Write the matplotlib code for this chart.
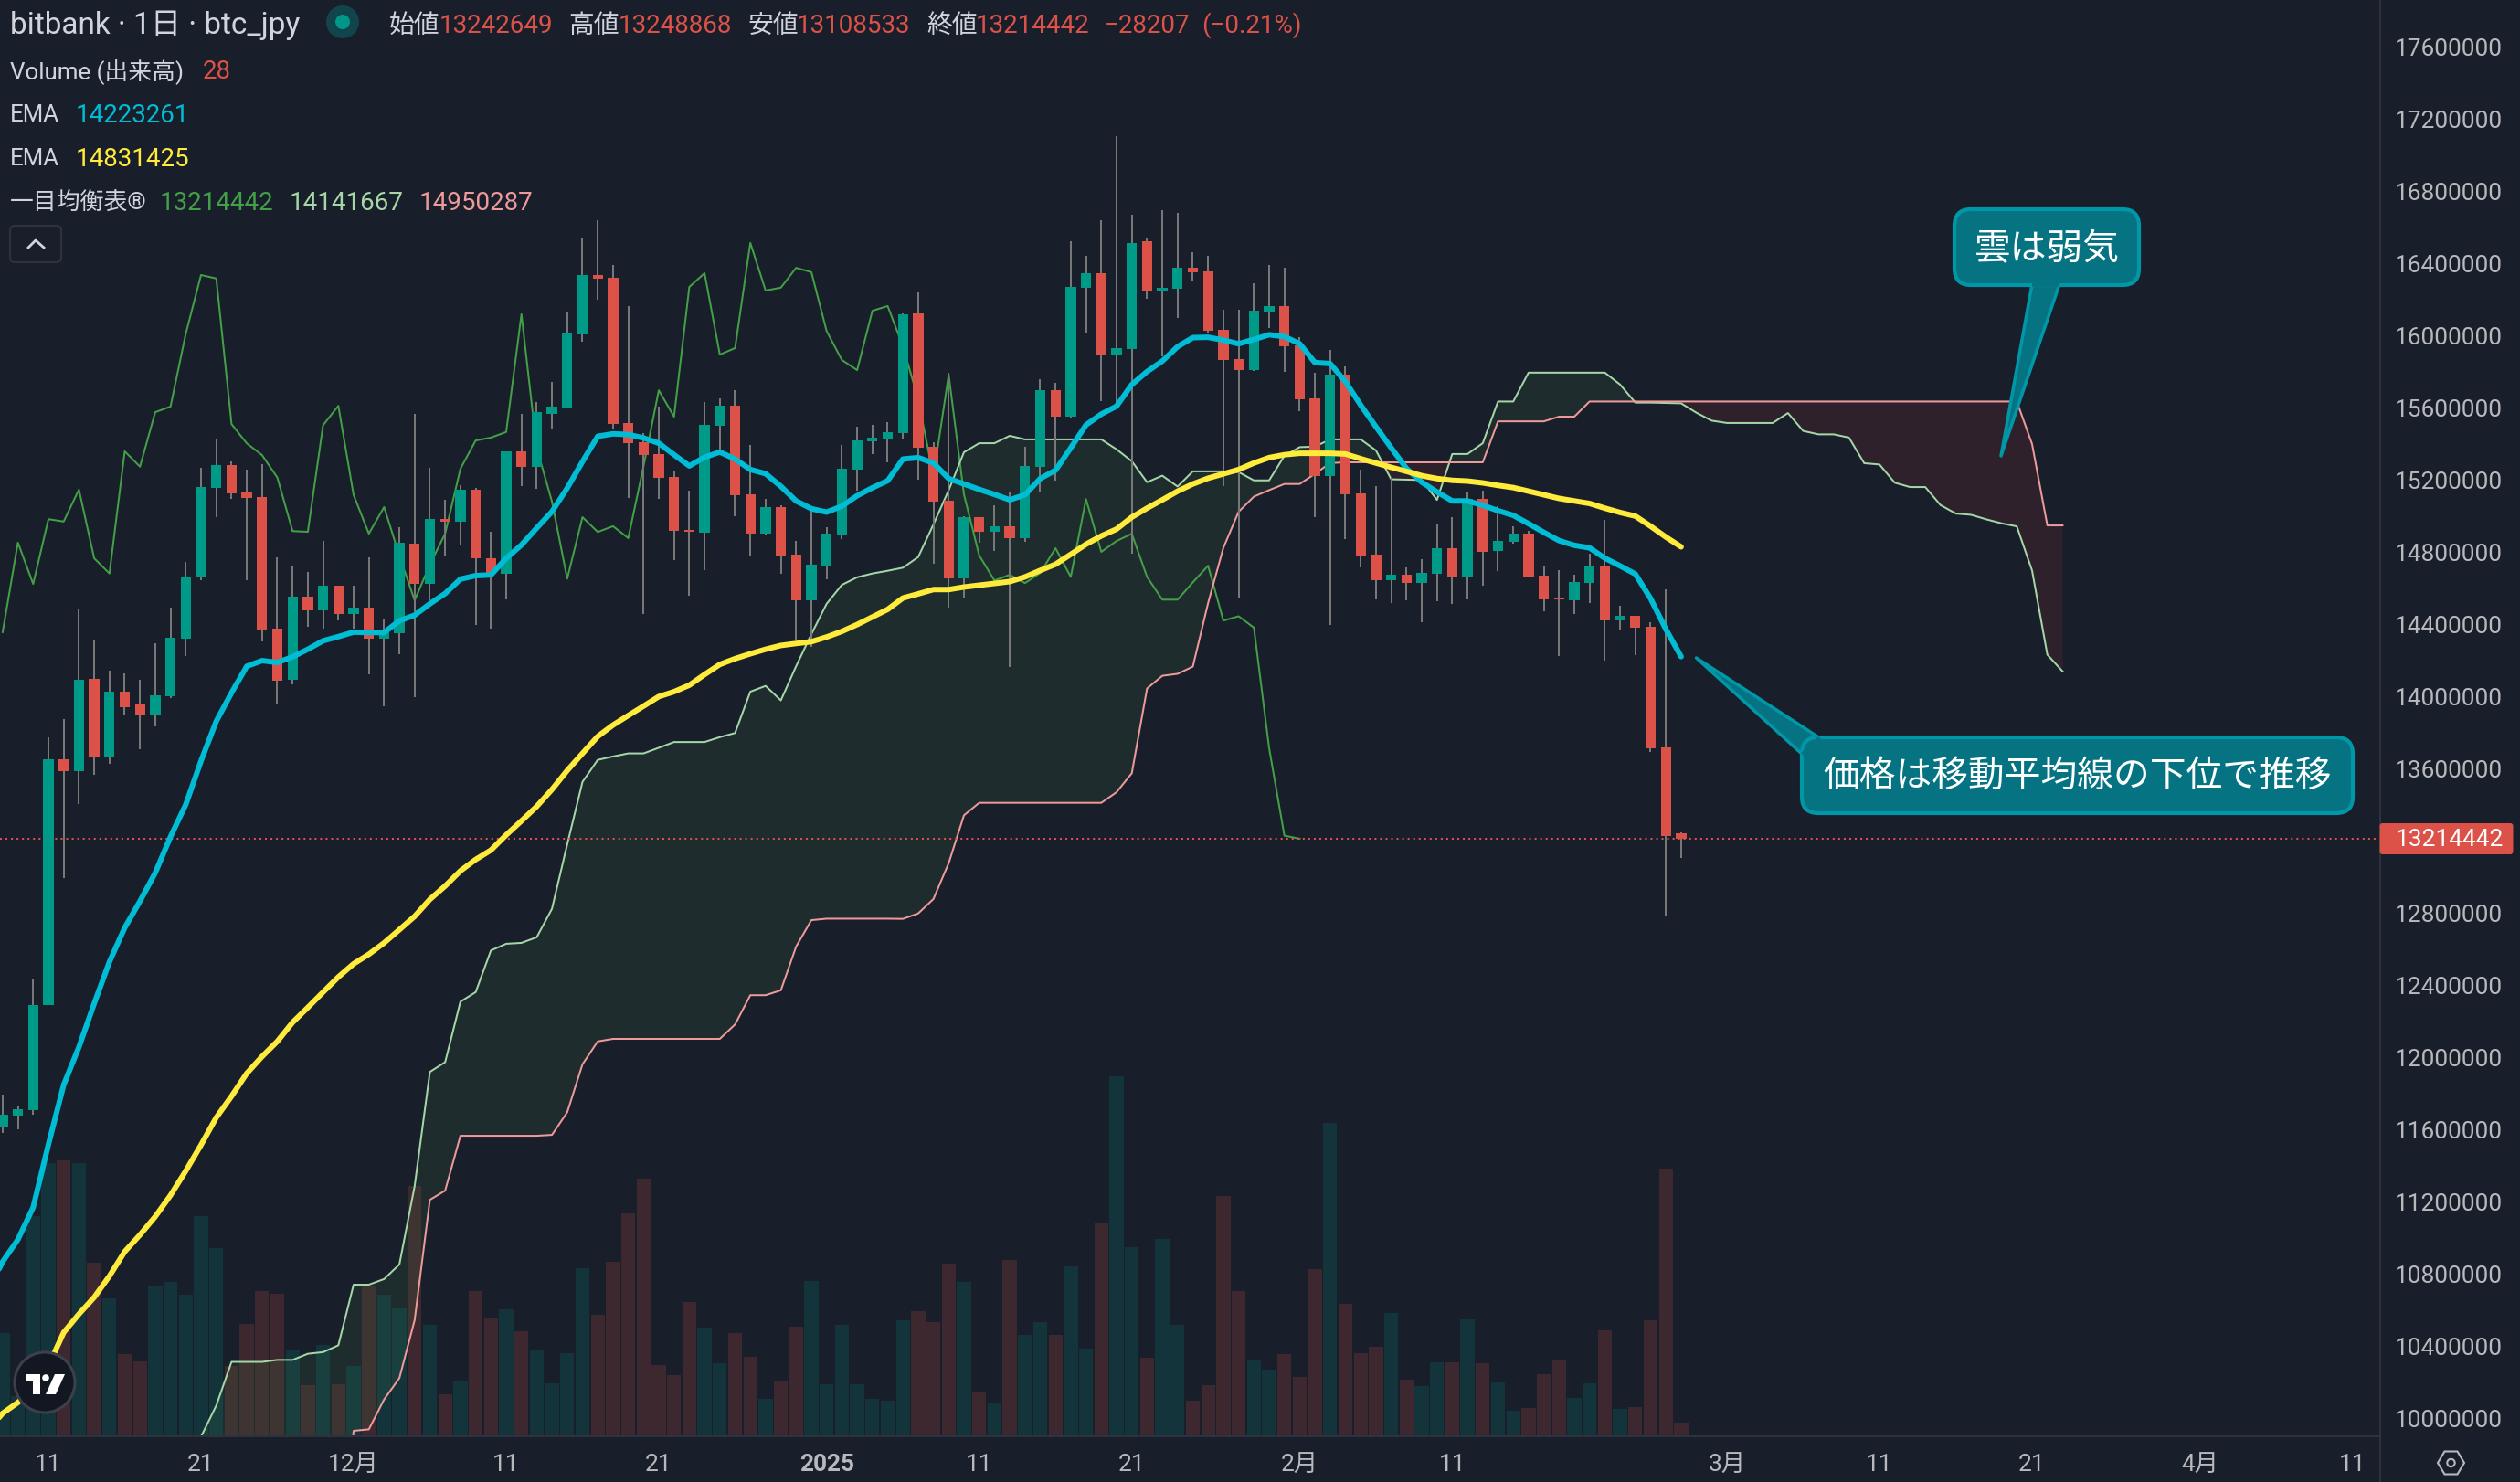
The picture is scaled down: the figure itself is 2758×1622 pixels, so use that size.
#!/usr/bin/env python
import numpy as np
import matplotlib
matplotlib.use('Agg')
import matplotlib.pyplot as plt
from matplotlib.patches import Circle, FancyBboxPatch, Polygon

plt.rcParams['font.family'] = ['Roboto', 'Noto Sans CJK JP', 'DejaVu Sans']

#%% Data, prices in million JPY, days counted from Nov 11
days = np.arange(-3, 108)

opens = [11.613, 11.682, 11.708, 12.290, 13.653, 13.588, 14.098, 13.668, 14.027, 13.958,
         13.897, 14.002, 14.321, 14.661, 15.157, 15.283, 15.132, 15.107, 14.378, 14.094,
         14.554, 14.479, 14.615, 14.458, 14.493, 14.321, 14.353, 14.848, 14.626, 14.985,
         14.970, 15.149, 14.768, 14.684, 15.361, 15.276, 15.568, 15.603, 16.010, 16.338,
         16.323, 15.518, 15.411, 15.345, 15.219, 14.925, 14.909, 15.502, 15.613, 15.121,
         14.905, 15.052, 14.787, 14.535, 14.726, 14.899, 15.258, 15.417, 15.431, 15.462,
         16.126, 15.384, 15.086, 14.655, 14.996, 14.914, 14.946, 14.880, 15.274, 15.699,
         15.553, 16.268, 16.348, 15.897, 15.927, 16.526, 16.252, 16.262, 16.378, 16.358,
         16.033, 15.871, 15.811, 16.136, 16.166, 15.947, 15.655, 15.224, 15.785, 15.128,
         14.788, 14.645, 14.677, 14.631, 14.681, 14.824, 14.665, 15.096, 14.808, 14.860,
         14.904, 14.671, 14.549, 14.535, 14.631, 14.727, 14.423, 14.447, 14.388, 13.719,
         13.242649]
highs = [11.796, 11.736, 12.441, 13.775, 13.876, 14.485, 14.313, 14.145, 14.128, 14.094,
         14.296, 14.493, 14.747, 15.270, 15.427, 15.303, 15.260, 15.289, 14.773, 14.722,
         14.691, 14.863, 14.615, 14.615, 14.773, 14.432, 14.941, 15.568, 15.268, 15.094,
         15.174, 15.157, 14.915, 15.361, 15.568, 15.632, 15.745, 16.133, 16.545, 16.644,
         16.396, 16.166, 15.460, 15.609, 15.248, 15.144, 15.634, 15.652, 15.700, 15.396,
         15.098, 15.062, 14.863, 15.031, 14.943, 15.396, 15.497, 15.506, 15.522, 16.127,
         16.242, 15.411, 15.797, 15.000, 14.996, 15.062, 15.136, 15.387, 15.761, 15.743,
         16.526, 16.442, 16.642, 17.107, 16.673, 16.546, 16.699, 16.683, 16.464, 16.444,
         16.146, 16.146, 16.292, 16.392, 16.378, 15.993, 15.795, 15.923, 15.831, 15.258,
         15.168, 15.216, 14.717, 14.763, 14.960, 14.996, 15.132, 15.142, 15.056, 14.946,
         14.920, 14.727, 14.705, 14.679, 14.794, 14.980, 14.503, 14.447, 14.413, 14.596,
         13.248868]
lows = [11.581, 11.606, 11.687, 12.290, 12.994, 13.405, 13.567, 13.628, 13.897, 13.708,
        13.836, 13.993, 14.227, 14.649, 14.996, 15.097, 14.649, 14.306, 13.960, 14.071,
        14.390, 14.380, 14.422, 14.376, 14.124, 13.949, 14.237, 14.000, 14.537, 14.779,
        14.842, 14.401, 14.380, 14.542, 15.167, 15.154, 15.489, 15.603, 15.968, 16.200,
        15.483, 15.105, 14.460, 15.095, 14.758, 14.563, 14.701, 15.342, 15.002, 14.779,
        14.899, 14.684, 14.317, 14.275, 14.653, 14.876, 15.144, 15.345, 15.299, 15.425,
        15.204, 14.736, 14.495, 14.545, 14.856, 14.810, 14.165, 14.860, 15.132, 15.200,
        15.547, 16.014, 15.641, 15.597, 14.796, 16.208, 15.887, 16.098, 16.308, 16.021,
        15.168, 14.551, 15.807, 16.044, 15.801, 15.583, 14.996, 14.399, 14.876, 14.719,
        14.539, 14.521, 14.535, 14.415, 14.531, 14.515, 14.541, 14.615, 14.699, 14.850,
        14.665, 14.475, 14.225, 14.461, 14.521, 14.202, 14.367, 14.232, 13.695, 12.787,
        13.108533]
closes = [11.687, 11.713, 12.294, 13.653, 13.588, 14.094, 13.668, 14.027, 13.941, 13.901,
          14.008, 14.327, 14.666, 15.163, 15.283, 15.126, 15.101, 14.374, 14.088, 14.554,
          14.479, 14.615, 14.458, 14.493, 14.321, 14.359, 14.855, 14.626, 14.985, 14.972,
          15.149, 14.768, 14.684, 15.361, 15.276, 15.578, 15.609, 16.012, 16.338, 16.319,
          15.512, 15.405, 15.340, 15.216, 14.919, 14.915, 15.506, 15.613, 15.119, 14.905,
          15.052, 14.783, 14.535, 14.733, 14.905, 15.264, 15.421, 15.437, 15.468, 16.121,
          15.380, 15.082, 14.655, 14.996, 14.914, 14.946, 14.880, 15.278, 15.699, 15.553,
          16.272, 16.348, 15.897, 15.933, 16.516, 16.252, 16.268, 16.378, 16.354, 16.027,
          15.867, 15.811, 16.140, 16.166, 15.943, 15.649, 15.224, 15.785, 15.122, 14.784,
          14.645, 14.677, 14.631, 14.687, 14.824, 14.665, 15.096, 14.804, 14.864, 14.904,
          14.665, 14.539, 14.539, 14.635, 14.727, 14.423, 14.447, 14.384, 13.716, 13.231,
          13.214442]
volumes = [211, 83, 450, 558, 564, 558, 355, 282, 168, 153,
           308, 315, 289, 450, 384, 144, 230, 297, 291, 177,
           104, 187, 106, 144, 306, 289, 261, 511, 228, 86,
           112, 297, 241, 259, 215, 177, 108, 170, 343, 248,
           356, 455, 526, 146, 125, 274, 222, 149, 211, 162,
           77, 114, 224, 317, 106, 228, 106, 77, 73, 237,
           256, 233, 353, 315, 90, 69, 360, 207, 233, 207,
           347, 179, 435, 735, 386, 160, 403, 228, 73, 104,
           491, 297, 155, 136, 168, 121, 341, 640, 271, 170,
           183, 252, 116, 103, 151, 151, 239, 149, 110, 52,
           58, 127, 157, 78, 108, 216, 56, 60, 237, 547,
           28]

# both EMAs start one day left of the window so the line reaches the edge
ema_days = np.arange(-4, 108)
ema_fast = [10.70, 10.87, 10.993, 11.171, 11.52, 11.85, 12.06, 12.301, 12.532, 12.721,
            12.868, 13.025, 13.225, 13.403, 13.645, 13.865, 14.023, 14.170, 14.201, 14.191,
            14.222, 14.264, 14.311, 14.334, 14.359, 14.357, 14.357, 14.422, 14.453, 14.516,
            14.573, 14.653, 14.672, 14.676, 14.768, 14.842, 14.936, 15.027, 15.157, 15.304,
            15.444, 15.458, 15.454, 15.435, 15.406, 15.342, 15.280, 15.328, 15.357, 15.318,
            15.260, 15.237, 15.167, 15.086, 15.043, 15.024, 15.057, 15.115, 15.159, 15.198,
            15.318, 15.326, 15.296, 15.210, 15.180, 15.150, 15.122, 15.092, 15.120, 15.210,
            15.256, 15.380, 15.507, 15.567, 15.611, 15.731, 15.803, 15.861, 15.941, 15.991,
            15.993, 15.977, 15.957, 15.981, 16.007, 15.997, 15.957, 15.853, 15.847, 15.747,
            15.617, 15.497, 15.380, 15.266, 15.190, 15.136, 15.086, 15.086, 15.062, 15.032,
            15.006, 14.960, 14.912, 14.866, 14.840, 14.826, 14.769, 14.726, 14.681, 14.545,
            14.375, 14.223261]
ema_slow = [9.93, 10.03, 10.090, 10.17, 10.293, 10.478, 10.580, 10.673, 10.791, 10.926,
            11.019, 11.120, 11.238, 11.373, 11.517, 11.669, 11.787, 11.914, 12.007, 12.091,
            12.196, 12.279, 12.364, 12.448, 12.521, 12.574, 12.637, 12.710, 12.784, 12.878,
            12.952, 13.036, 13.099, 13.151, 13.235, 13.313, 13.393, 13.487, 13.592, 13.687,
            13.781, 13.844, 13.897, 13.949, 14.002, 14.029, 14.065, 14.124, 14.180, 14.212,
            14.239, 14.264, 14.285, 14.296, 14.306, 14.332, 14.363, 14.401, 14.443, 14.485,
            14.548, 14.571, 14.595, 14.595, 14.609, 14.619, 14.629, 14.639, 14.665, 14.701,
            14.735, 14.790, 14.846, 14.892, 14.930, 14.996, 15.046, 15.092, 15.140, 15.180,
            15.212, 15.236, 15.260, 15.296, 15.326, 15.342, 15.350, 15.350, 15.350, 15.346,
            15.320, 15.296, 15.272, 15.250, 15.226, 15.210, 15.200, 15.196, 15.186, 15.172,
            15.160, 15.140, 15.120, 15.100, 15.086, 15.072, 15.046, 15.022, 15.002, 14.946,
            14.886, 14.831425]

# cloud spans run 25 days past the last candle, first values sit below the window
span_days = np.arange(9, 133)
span_a = [9.00, 9.90, 10.073, 10.315, 10.315, 10.315, 10.326, 10.326, 10.360, 10.369,
          10.407, 10.743, 10.743, 10.774, 10.855, 11.289, 11.922, 11.976, 12.311, 12.364,
          12.595, 12.632, 12.637, 12.668, 12.826, 13.183, 13.529, 13.651, 13.670, 13.687,
          13.687, 13.718, 13.750, 13.750, 13.750, 13.777, 13.800, 14.029, 14.061, 13.981,
          14.170, 14.348, 14.516, 14.621, 14.663, 14.684, 14.699, 14.716, 14.775, 14.956,
          15.146, 15.356, 15.406, 15.406, 15.447, 15.427, 15.427, 15.427, 15.427, 15.427,
          15.427, 15.372, 15.306, 15.190, 15.226, 15.166, 15.250, 15.250, 15.250, 15.246,
          15.200, 15.200, 15.336, 15.384, 15.387, 15.427, 15.427, 15.427, 15.366, 15.206,
          15.204, 15.202, 15.092, 15.346, 15.346, 15.406, 15.637, 15.637, 15.797, 15.797,
          15.797, 15.797, 15.797, 15.797, 15.731, 15.631, 15.631, 15.629, 15.627, 15.575,
          15.531, 15.518, 15.518, 15.518, 15.518, 15.573, 15.474, 15.455, 15.455, 15.437,
          15.295, 15.288, 15.187, 15.163, 15.163, 15.063, 15.016, 15.009, 14.984, 14.962,
          14.945, 14.700, 14.234, 14.141667]
span_b = [9.00, 9.00, 9.00, 9.00, 9.00, 9.00, 9.00, 9.00, 9.00, 9.00,
          9.00, 9.933, 9.941, 10.107, 10.225, 10.546, 11.213, 11.264, 11.568, 11.568,
          11.568, 11.568, 11.568, 11.568, 11.573, 11.698, 11.964, 12.091, 12.105, 12.105,
          12.105, 12.105, 12.105, 12.105, 12.105, 12.105, 12.185, 12.347, 12.347, 12.374,
          12.616, 12.763, 12.771, 12.771, 12.771, 12.771, 12.771, 12.770, 12.800, 12.880,
          13.079, 13.344, 13.413, 13.413, 13.413, 13.413, 13.413, 13.413, 13.413, 13.413,
          13.413, 13.472, 13.577, 14.047, 14.117, 14.128, 14.168, 14.52, 14.826, 15.026,
          15.110, 15.146, 15.180, 15.180, 15.236, 15.296, 15.300, 15.300, 15.300, 15.300,
          15.300, 15.300, 15.300, 15.300, 15.300, 15.300, 15.527, 15.527, 15.527, 15.527,
          15.553, 15.553, 15.637, 15.637, 15.637, 15.637, 15.637, 15.637, 15.637, 15.637,
          15.637, 15.637, 15.637, 15.637, 15.637, 15.637, 15.637, 15.637, 15.637, 15.637,
          15.637, 15.637, 15.637, 15.637, 15.637, 15.637, 15.637, 15.637, 15.637, 15.637,
          15.637, 15.401, 14.950287, 14.950287]

last_price = 13.214442
price_ticks = [10.0, 10.4, 10.8, 11.2, 11.6, 12.0, 12.4, 12.8, 13.2, 13.6, 14.0, 14.4, 14.8,
               15.2, 15.6, 16.0, 16.4, 16.8, 17.2, 17.6]
price_labels = ['10000000', '10400000', '10800000', '11200000', '11600000', '12000000',
                '12400000', '12800000', '13200000', '13600000', '14000000', '14400000',
                '14800000', '15200000', '15600000', '16000000', '16400000', '16800000',
                '17200000', '17600000']
date_ticks = [0, 10, 20, 30, 40, 51, 61, 71, 82, 92, 110, 120, 130, 141, 151]
date_labels = ['11', '21', '12月', '11', '21', '2025', '11', '21', '2月', '11',
               '3月', '11', '21', '4月', '11']

#%% Colours
BG = '#191e2b'
UP = '#009b88'
DOWN = '#dc5248'
WICK = '#787878'
CYAN = '#00bcd4'
YELLOW = '#ffeb3b'
LAG = '#43a047'
SPAN_A = '#a5d6a7'
SPAN_B = '#ef9a9a'
TEXT = '#d1d4dc'
AXIS_TEXT = '#b8b9bd'
RULE = '#2e323e'
NOTE_FACE = '#057382'
NOTE_EDGE = '#0097a7'

W, H = 2758, 1622
AXIS_X, AXIS_Y = 2604.5, 1572

opens, highs, lows, closes = map(np.array, (opens, highs, lows, closes))
rising = closes >= opens

#%% Figure, price axes on top of the volume axes
fig = plt.figure(figsize=(W / 100, H / 100), dpi=100, facecolor=BG)
rect = [0, 1 - AXIS_Y / H, AXIS_X / W, AXIS_Y / H]

vol = fig.add_axes(rect, facecolor=BG, zorder=0)
vol.bar(days, volumes, width=0.92, color=np.where(rising, '#14343c', '#3d2830'))
vol.set_xlim(-53 / 16.7, (AXIS_X - 53) / 16.7)
vol.set_ylim(0, AXIS_Y / 0.536)
vol.axis('off')

ax = fig.add_axes(rect, zorder=1)
ax.patch.set_visible(False)
ax.set_xlim(vol.get_xlim())
ax.set_ylim(17.862 - AXIS_Y / 197.5, 17.862)

a, b = np.array(span_a), np.array(span_b)
ax.fill_between(span_days, a, b, where=a >= b, interpolate=True, color='#4caf50', alpha=0.1, lw=0, zorder=1)
ax.fill_between(span_days, a, b, where=a <= b, interpolate=True, color='#f44336', alpha=0.1, lw=0, zorder=1)
ax.plot(days[:-25], closes[25:], color=LAG, lw=1.45, zorder=2)
ax.plot(span_days, a, color=SPAN_A, lw=1.45, zorder=2)
ax.plot(span_days, b, color=SPAN_B, lw=1.45, zorder=2)

ax.axhline(last_price, color=DOWN, lw=1.45, ls=(0, (1, 2)), zorder=2)

ax.vlines(days, lows, highs, color=WICK, lw=1.45, zorder=3)
ax.bar(days, np.abs(closes - opens), bottom=np.minimum(opens, closes), width=0.68,
       color=np.where(rising, UP, DOWN), zorder=4)

ax.plot(ema_days, ema_fast, color=CYAN, lw=4.3, solid_capstyle='round', solid_joinstyle='round', zorder=5)
ax.plot(ema_days, ema_slow, color=YELLOW, lw=4.3, solid_capstyle='round', solid_joinstyle='round', zorder=5)

ax.yaxis.tick_right()
ax.set_yticks(price_ticks, price_labels)
ax.set_xticks(date_ticks, date_labels)
ax.tick_params(axis='y', length=0, pad=12, labelsize=18.9, labelcolor=AXIS_TEXT)
ax.tick_params(axis='x', length=0, pad=14, labelsize=18.9, labelcolor=AXIS_TEXT)
ax.get_xticklabels()[5].set_fontweight('bold')
for side in ['top', 'left']:
    ax.spines[side].set_visible(False)
for side in ['right', 'bottom']:
    ax.spines[side].set_color(RULE)
    ax.spines[side].set_linewidth(1.5)

#%% Overlay in figure pixels for the chart's chrome and notes
ov = fig.add_axes([0, 0, 1, 1], zorder=5)
ov.set_xlim(0, W)
ov.set_ylim(H, 0)
ov.axis('off')
ov.patch.set_visible(False)

ov.plot([AXIS_X, AXIS_X], [AXIS_Y, H], color=RULE, lw=1.5)

def label(x, y, s, color=TEXT, size=20, **kw):
    ov.text(x, y + 3, s, color=color, fontsize=size, va='center', **kw)

label(11, 25, 'bitbank · 1日 · btc_jpy', size=24)
ov.add_patch(Circle((375, 24), 18, fc='#12444c', ec='none'))
ov.add_patch(Circle((375, 24), 8, fc='#009688', ec='none'))
for x, s in [(426, '始値'), (622, '高値'), (818, '安値'), (1014, '終値')]:
    label(x, 25, s)
for x, s in [(481, '13242649'), (677, '13248868'), (872, '13108533'), (1068, '13214442'),
             (1209, '−28207'), (1315, '(−0.21%)')]:
    label(x, 25, s, color=DOWN)

label(11, 75, 'Volume (出来高)', size=18.6)
label(222, 75, '28', color=DOWN)
label(11, 123, 'EMA', size=18.6)
label(83, 123, '14223261', color=CYAN)
label(11, 171, 'EMA', size=18.6)
label(83, 171, '14831425', color=YELLOW)
label(11, 219, '一目均衡表®', size=18.6)
label(175, 219, '13214442', color=LAG)
label(317, 219, '14141667', color=SPAN_A)
label(459, 219, '14950287', color=SPAN_B)

# collapse button
ov.add_patch(FancyBboxPatch((11, 247), 56, 40, boxstyle='round,pad=0,rounding_size=5',
                            fc='none', ec=RULE, lw=1.5))
ov.plot([31, 39, 48], [271, 263, 271], color=TEXT, lw=2)

# logo
ov.add_patch(Circle((49, 1513), 33, fc='#131722', ec='#3c404a', lw=2.2, zorder=6))
ov.add_patch(Polygon([(29, 1504), (44, 1504), (44, 1526), (36, 1526), (36, 1511), (29, 1511)],
                     fc='white', ec='none', zorder=7))
ov.add_patch(Circle((50, 1508), 3.8, fc='white', ec='none', zorder=7))
ov.add_patch(Polygon([(60, 1504), (71, 1504), (61, 1526), (50, 1526)], fc='white', ec='none', zorder=7))

# last price tag
ov.add_patch(FancyBboxPatch((AXIS_X, 901), 146, 34, boxstyle='round,pad=0,rounding_size=3',
                            fc=DOWN, ec='none'))
label(2622, 916, '13214442', color='white', size=18.9)

# settings icon
cx, cy = 2682.5, 1601
ov.add_patch(Polygon([(cx - 14.5, cy), (cx - 7, cy - 12.5), (cx + 7, cy - 12.5), (cx + 14.5, cy),
                      (cx + 7, cy + 12.5), (cx - 7, cy + 12.5)], fc='none', ec=AXIS_TEXT, lw=1.5))
ov.add_patch(Circle((cx, cy), 4.2, fc='none', ec=AXIS_TEXT, lw=1.5))

def note(x0, y0, x1, y1, tail, text):
    ov.add_patch(Polygon(tail, fc=NOTE_FACE, ec=NOTE_EDGE, lw=2.5, joinstyle='round', zorder=8))
    ov.add_patch(FancyBboxPatch((x0, y0), x1 - x0, y1 - y0, boxstyle='round,pad=0,rounding_size=18',
                                fc=NOTE_FACE, ec=NOTE_EDGE, lw=3, zorder=8))
    # hide the box border where the tail joins it
    (ax0, ay0), (ax1, ay1) = tail[0], tail[-1]
    ov.plot([ax0, ax1], [ay0, ay1], color=NOTE_FACE, lw=4, solid_capstyle='butt', zorder=9)
    ov.text((x0 + x1) / 2, (y0 + y1) / 2 + 1, text, color='white', fontsize=28.6,
            ha='center', va='center', zorder=10)

note(1972, 807, 2575, 890, [(1992, 808), (1856.5, 720), (1973, 826)], '価格は移動平均線の下位で推移')
note(2139, 229, 2341, 312, [(2224, 311), (2190, 499), (2254, 311)], '雲は弱気')

fig.savefig('out.png', dpi=100, facecolor=BG)
